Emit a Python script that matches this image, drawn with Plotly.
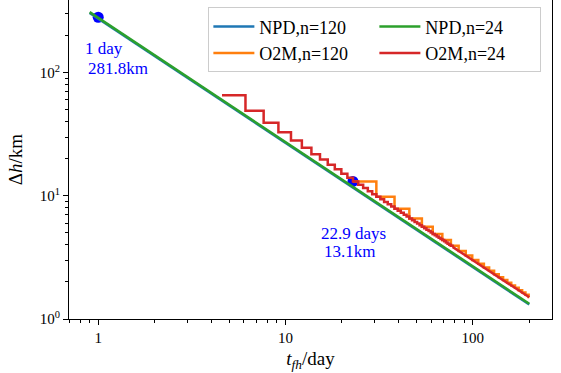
import math
import plotly.graph_objects as go

# Fill-hole width vs. time: NPD (straight power law) and O2M (stepped) for n=120 and n=24
npd120_t = [0.9, 200]
npd120_dh = [306.0, 1.31]
npd24_t = [0.9, 200]
npd24_dh = [310.0, 1.33]

# O2M, n=120: step start times (day) and step levels (km)
o2m120_t = [22.90, 30.53, 38.17, 45.80, 53.43, 61.06, 68.70, 76.33, 83.96, 91.60,
            99.23, 106.9, 114.5, 122.1, 129.8, 137.4, 145.0, 152.7, 160.3, 167.9,
            175.6, 183.2, 190.8, 198.5, 200.0]
o2m120_dh = [13.10, 9.83, 7.86, 6.55, 5.61, 4.91, 4.37, 3.93, 3.57, 3.28,
             3.02, 2.81, 2.62, 2.46, 2.31, 2.18, 2.07, 1.97, 1.87, 1.79,
             1.71, 1.64, 1.57, 1.51, 1.51]

# O2M, n=24: step start times (day) and step levels (km)
o2m24_t = [4.58, 6.11, 7.64, 9.16, 10.69, 12.22, 13.74, 15.27, 16.80, 18.32,
           19.85, 21.38, 22.91, 24.43, 25.96, 27.49, 29.01, 30.54, 32.07, 33.59,
           35.12, 36.65, 38.18, 39.70, 41.23, 42.76, 44.28, 45.81, 47.34, 48.86,
           50.39, 51.92, 53.45, 54.97, 56.50, 58.03, 59.55, 61.08, 62.61, 64.13,
           65.66, 67.19, 68.72, 70.24, 71.77, 73.30, 74.82, 76.35, 77.88]
o2m24_dh = [65.5, 49.1, 39.3, 32.8, 28.1, 24.6, 21.8, 19.7, 17.9, 16.4,
            15.1, 14.0, 13.1, 12.3, 11.6, 10.9, 10.3, 9.83, 9.36, 8.93,
            8.54, 8.19, 7.86, 7.56, 7.28, 7.02, 6.78, 6.55, 6.34, 6.14,
            5.95, 5.78, 5.61, 5.46, 5.31, 5.17, 5.04, 4.91, 4.79, 4.68,
            4.57, 4.47, 4.37, 4.27, 4.18, 4.09, 4.01, 3.93, 3.85]
# fine steps beyond ~78 days merge into a line
o2m24_tail_t = [77.88, 200.0]
o2m24_tail_dh = [3.85, 1.50]

# marked points
mark_t = [1.0, 22.9]
mark_dh = [281.8, 13.1]

C_BLUE = "#1f77b4"
C_ORANGE = "#ff7f0e"
C_GREEN = "#2ca02c"
C_RED = "#d62728"
LW = 2.5
FONT = "Liberation Serif, Times New Roman, serif"

fig = go.Figure()

fig.add_trace(go.Scatter(x=mark_t, y=mark_dh, mode="markers",
                         marker=dict(color="#0000ff", size=11),
                         showlegend=False, hoverinfo="skip"))

fig.add_trace(go.Scatter(x=npd120_t, y=npd120_dh, mode="lines", name="NPD,n=120",
                         line=dict(color=C_BLUE, width=LW), legendrank=1))
fig.add_trace(go.Scatter(x=o2m120_t, y=o2m120_dh, mode="lines", name="O2M,n=120",
                         line=dict(color=C_ORANGE, width=LW, shape="hv"), legendrank=3))
fig.add_trace(go.Scatter(x=npd24_t, y=npd24_dh, mode="lines", name="NPD,n=24",
                         line=dict(color=C_GREEN, width=LW), legendrank=2))
fig.add_trace(go.Scatter(x=o2m24_t, y=o2m24_dh, mode="lines", name="O2M,n=24",
                         legendgroup="o2m24",
                         line=dict(color=C_RED, width=LW, shape="hv"), legendrank=4))
fig.add_trace(go.Scatter(x=o2m24_tail_t, y=o2m24_tail_dh, mode="lines",
                         legendgroup="o2m24", showlegend=False,
                         line=dict(color=C_RED, width=LW)))

# text labels next to the marked points (x, y given in log10 units on the log axes)
ann_pts = [
    (0.826, 156.0, "1 day"),
    (0.86, 108.0, "281.8km"),
    (15.09, 4.95, "22.9 days"),
    (15.65, 3.52, "13.1km"),
]
for tx, ty, txt in ann_pts:
    fig.add_annotation(x=math.log10(tx), y=math.log10(ty), xref="x", yref="y",
                       text=txt, showarrow=False, xanchor="left", yanchor="middle",
                       font=dict(family=FONT, size=17, color="#0000ff"))

x_minor = [0.7, 0.8, 0.9, 2, 3, 4, 5, 6, 7, 8, 9, 20, 30, 40, 50, 60, 70, 80, 90, 200]
y_minor = [2, 3, 4, 5, 6, 7, 8, 9, 20, 30, 40, 50, 60, 70, 80, 90, 200, 300]

axis_common = dict(
    showgrid=False, zeroline=False, showline=True, linecolor="black", linewidth=1,
    mirror=True, ticks="outside", ticklen=5, tickwidth=1, tickcolor="black",
    tickfont=dict(family=FONT, size=15, color="black"),
)

fig.update_xaxes(type="log", range=[-0.156, 2.4224],
                 tickvals=[1, 10, 100], ticktext=["1", "10", "100"],
                 minor=dict(tickvals=x_minor, ticks="outside", ticklen=3,
                            tickcolor="black", tickwidth=1, showgrid=False),
                 title=dict(text="<i>t</i><sub><i>fh</i></sub>/day",
                            font=dict(family=FONT, size=19, color="black"), standoff=6),
                 **axis_common)
fig.update_yaxes(type="log", range=[0, 2.59],
                 tickvals=[1, 10, 100],
                 ticktext=["10<sup>0</sup>", "10<sup>1</sup>", "10<sup>2</sup>"],
                 minor=dict(tickvals=y_minor, ticks="outside", ticklen=3,
                            tickcolor="black", tickwidth=1, showgrid=False),
                 title=dict(text="Δ<i>h</i>/km",
                            font=dict(family=FONT, size=19, color="black"), standoff=12),
                 **axis_common)

fig.update_layout(
    width=561, height=373,
    margin=dict(l=69, r=9, t=0, b=54, autoexpand=False),
    plot_bgcolor="white", paper_bgcolor="white",
    font=dict(family=FONT, color="black"),
    legend=dict(orientation="h", x=0.978, y=0.977, xanchor="right", yanchor="top",
                entrywidth=110, entrywidthmode="pixels", itemwidth=41,
                tracegroupgap=0,
                bgcolor="white", bordercolor="#cccccc", borderwidth=1,
                font=dict(family=FONT, size=18, color="black")),
)

fig.write_html("out.html")
